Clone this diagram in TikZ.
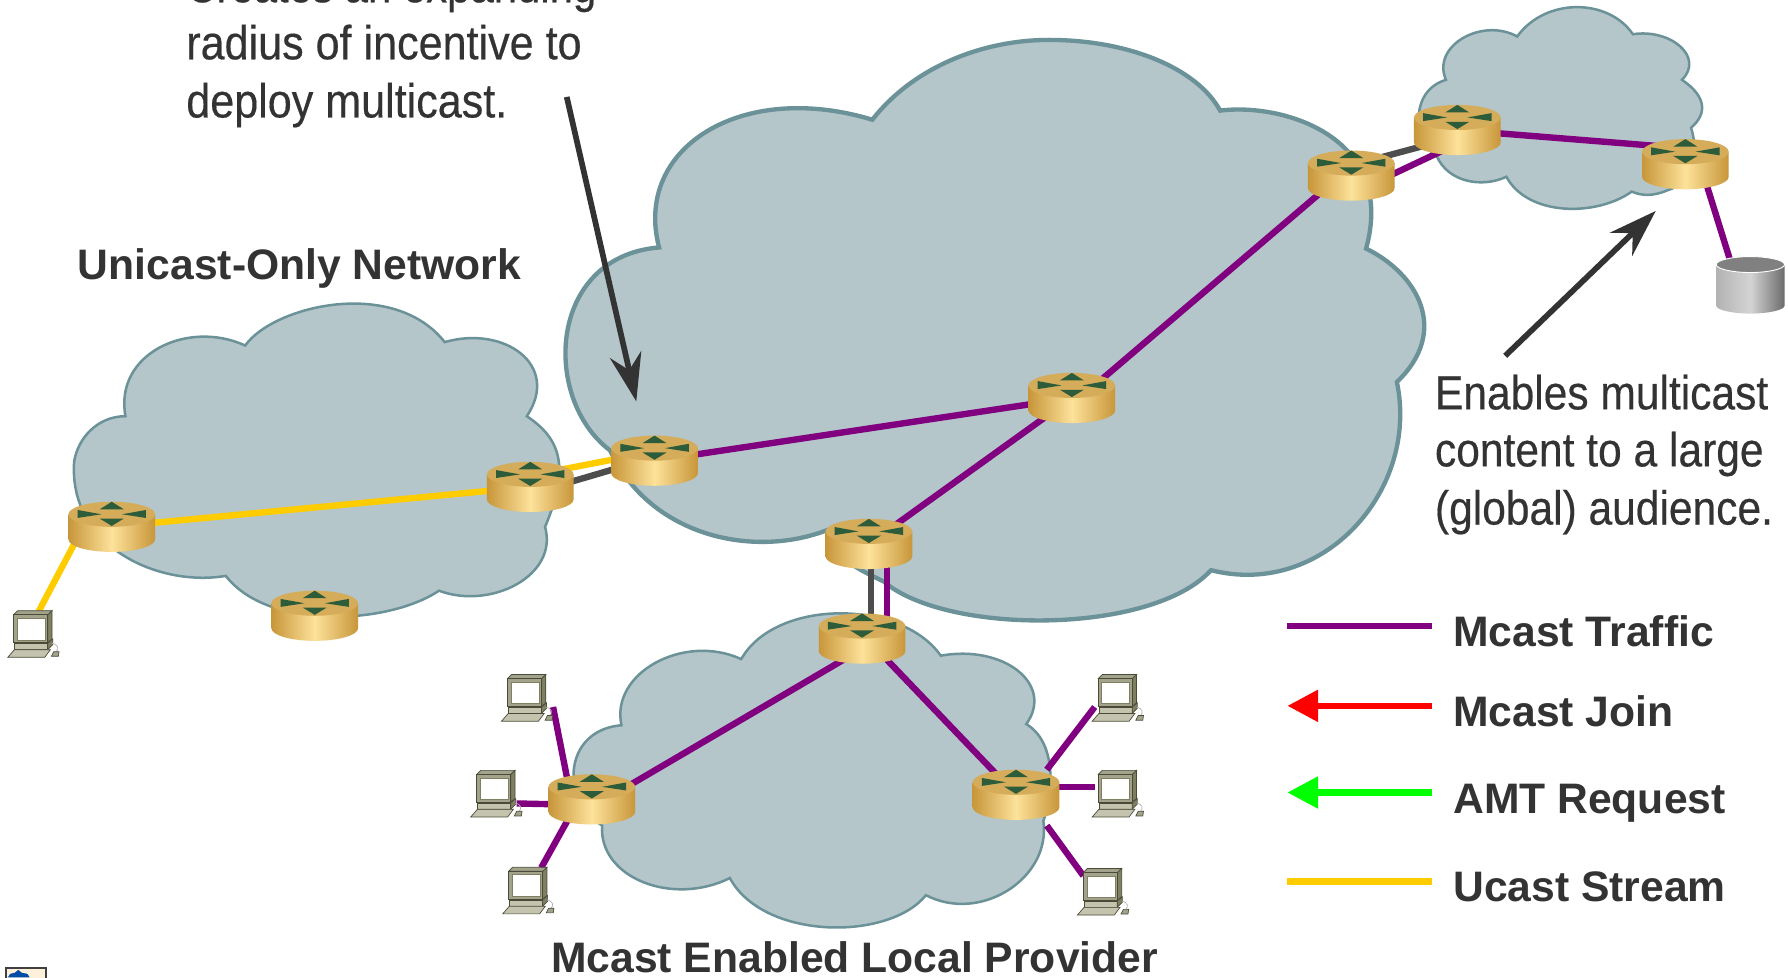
\documentclass[tikz,border=0pt]{standalone}
\usepackage{fontspec}
\setmainfont{Liberation Sans}
\newfontfamily\narrowfont[FakeStretch=0.90,FakeBold=0.35]{Liberation Sans}
\newfontfamily\narrowerfont[FakeStretch=0.875,FakeBold=0.35]{Liberation Sans}
\newfontfamily\narrowmidfont[FakeStretch=0.888,FakeBold=0.35]{Liberation Sans}
\usetikzlibrary{arrows.meta}
\definecolor{cloudfill}{HTML}{B4C6C9}
\definecolor{cloudedge}{HTML}{6B9298}
\definecolor{mcastpurple}{HTML}{800080}
\definecolor{ucastyellow}{HTML}{FFCC00}
\definecolor{linkgray}{HTML}{4D4D4D}
\definecolor{inkdark}{HTML}{333333}
\definecolor{routertop}{HTML}{D5AC5A}
\definecolor{routeredge}{HTML}{C8963A}
\definecolor{routermid}{HTML}{FDE29A}
\definecolor{routerarrow}{HTML}{2D5C3A}
\definecolor{pcdark}{HTML}{7F7F62}
\definecolor{pcmid}{HTML}{A3A38C}
\definecolor{pclight}{HTML}{C4C4AE}
\definecolor{pcline}{HTML}{4A4A38}
\tikzset{
  netpt/.style={inner sep=0pt,minimum width=38pt,minimum height=22pt},
  pcpt/.style={inner sep=0pt,minimum width=22pt,minimum height=21pt},
  dbpt/.style={inner sep=0pt,minimum width=30pt,minimum height=25pt},
  bigcloud/.style={fill=cloudfill,draw=cloudedge,line width=1.9pt,line join=miter},
  smallcloud/.style={fill=cloudfill,draw=cloudedge,line width=1.1pt,line join=miter},
  mlink/.style={draw=mcastpurple,line width=2.8pt},
  ulink/.style={draw=ucastyellow,line width=2.8pt},
  glink/.style={draw=linkgray,line width=2.8pt},
  callout/.style={draw=inkdark,line width=2.5pt,-{Stealth[length=21pt,width=14pt,inset=7pt]}},
  legendline/.style={line width=2.8pt},
  legendhead/.style={{Stealth[length=13.5pt,width=13.5pt,inset=0pt]}-},
  boldlabel/.style={anchor=base west,inner sep=0pt,text=inkdark,font=\fontsize{18.7}{22}\selectfont\bfseries},
  notelabel/.style={anchor=base west,inner sep=0pt,text=inkdark,font=\narrowfont\fontsize{21}{25}\selectfont},
  routerpic/.pic={
    \shade[left color=routeredge,right color=routeredge,middle color=routermid]
      (-38,-11) -- (-38,11) .. controls (-38,17) and (-21,22) .. (0,22)
      .. controls (21,22) and (38,17) .. (38,11) -- (38,-11) -- cycle;
    \fill[routertop] (-38,-11) .. controls (-38,-17) and (-21,-22) .. (0,-22)
      .. controls (21,-22) and (38,-17) .. (38,-11)
      .. controls (38,-5) and (21,0) .. (0,0)
      .. controls (-21,0) and (-38,-5) .. (-38,-11) -- cycle;
    \fill[routerarrow] (-10.5,-15.4) -- (10.5,-15.4) -- (0,-22) -- cycle;
    \fill[routerarrow] (-10.5,-7.2) -- (10.5,-7.2) -- (0,-0.8) -- cycle;
    \fill[routerarrow] (-30,-14.8) -- (-30,-7.8) -- (-9,-11) -- cycle;
    \fill[routerarrow] (30,-14.8) -- (30,-7.8) -- (9,-11) -- cycle;
  },
  pcpic/.pic={
    \begin{scope}[x=.146pt,y=-.146pt,shift={(-98,-640)}]
      \filldraw[fill=pcdark,draw=pcline,line width=.3pt]
        (142,582) -- (155,570) -- (155,655) -- (142,665) -- cycle;
      \filldraw[fill=pcmid,draw=pcline,line width=.3pt]
        (40,582) -- (52,570) -- (155,570) -- (142,582) -- cycle;
      \filldraw[fill=pcmid,draw=pcline,line width=.3pt]
        (40,582) rectangle (142,665);
      \filldraw[fill=white,draw=pcdark,line width=.4pt] (51,593) rectangle (135,658);
      \filldraw[fill=pclight,draw=pcline,line width=.3pt]
        (42,668) rectangle (142,687);
      \filldraw[fill=pcdark,draw=pcline,line width=.3pt]
        (142,668) -- (157,655) -- (157,672) -- (142,687) -- cycle;
      \filldraw[fill=pclight,draw=pcline,line width=.3pt]
        (22,710) -- (42,687) -- (150,687) -- (133,710) -- cycle;
      \draw[gray!60,line width=.3pt] (155,668) .. controls (175,672) and (175,685) .. (168,692);
      \filldraw[fill=pcmid,draw=pcline,line width=.3pt]
        (153,707) -- (160,693) -- (176,693) -- (174,707) -- cycle;
    \end{scope}
  },
  dbpic/.pic={
    \shade[left color=black!30,right color=black!58,middle color=black!17]
      (-30,-18) -- (-30,18) .. controls (-30,22) and (-15,25) .. (0,25)
      .. controls (15,25) and (30,22) .. (30,18) -- (30,-18) -- cycle;
    \filldraw[fill=black!50,draw=white,line width=.4pt]
      (-30,-18) .. controls (-30,-22) and (-15,-25) .. (0,-25)
      .. controls (15,-25) and (30,-22) .. (30,-18)
      .. controls (30,-14) and (15,-11) .. (0,-11)
      .. controls (-15,-11) and (-30,-14) .. (-30,-18) -- cycle;
  }
}
\begin{document}
\begin{tikzpicture}[x=.5pt,y=-.5pt]
\fill[white] (0,0) rectangle (1568,857);
\useasboundingbox (0,0) rectangle (1568,857);
% anchors
\foreach \n/\px/\py in {r1/98/462,r2/276/540,r3/465/427,r4/574/404,r5/940/349,r6/762/477,
  r7/1185/154,r8/1278/114,r9/1478/144,r10/756/560,r11/519/701,r12/891/697}
  {\node[netpt] (\n) at (\px,\py) {};}
\foreach \n/\px/\py in {pc0/29/556,pc1/462/612,pc2/435/696,pc3/463/781,pc4/980/612,pc5/980/696,pc6/967/782}
  {\node[pcpt] (\n) at (\px,\py) {};}
\node[dbpt] (db) at (1535,250) {};
% clouds
\path[bigcloud] (765,105) .. controls (800,60) and (860,35) .. (920,35)
  .. controls (990,35) and (1050,60) .. (1070,97)
  .. controls (1125,90) and (1225,120) .. (1198,218)
  .. controls (1243,240) and (1272,290) .. (1225,335)
  .. controls (1245,430) and (1160,525) .. (1062,500)
  .. controls (1010,557) and (830,557) .. (775,510)
  .. controls (755,500) and (730,490) .. (725,465)
  .. controls (660,490) and (570,470) .. (535,395)
  .. controls (475,350) and (480,225) .. (578,217)
  .. controls (555,130) and (650,70) .. (765,105) -- cycle;
\path[smallcloud] (215,303) .. controls (240,268) and (345,243) .. (390,300)
  .. controls (442,285) and (492,320) .. (462,365)
  .. controls (492,385) and (500,410) .. (478,462)
  .. controls (490,505) and (430,535) .. (385,518)
  .. controls (340,548) and (235,553) .. (198,505)
  .. controls (140,515) and (60,480) .. (65,405)
  .. controls (68,385) and (85,365) .. (110,365)
  .. controls (100,310) and (165,280) .. (215,303) -- cycle;
\path[smallcloud] (650,578) .. controls (680,525) and (790,525) .. (825,575)
  .. controls (880,565) and (925,600) .. (900,635)
  .. controls (925,650) and (925,690) .. (915,720)
  .. controls (922,770) and (860,810) .. (812,785)
  .. controls (780,825) and (670,825) .. (640,770)
  .. controls (590,795) and (525,770) .. (528,724)
  .. controls (490,700) and (495,640) .. (545,636)
  .. controls (535,590) and (600,555) .. (650,578) -- cycle;
\path[smallcloud] (1330.5,32) .. controls (1355,-2) and (1410,-2) .. (1432,30)
  .. controls (1465,25) and (1495,50) .. (1475,70)
  .. controls (1497,85) and (1497,100) .. (1483,112)
  .. controls (1490,135) and (1485,160) .. (1462,167)
  .. controls (1450,172) and (1440,172) .. (1431,168)
  .. controls (1400,190) and (1340,190) .. (1321,155)
  .. controls (1300,165) and (1270,160) .. (1260,137)
  .. controls (1240,125) and (1235,80) .. (1268,70)
  .. controls (1255,40) and (1300,15) .. (1330.5,32) -- cycle;
% connectors
\draw[ulink] (r1.center) -- (r3.center);
\draw[ulink] ([shift={(-25,0)}]r1.center) -- ([shift={(5,-20)}]pc0.center);
\draw[ulink] ([shift={(0,-10)}]r3.center) -- ([shift={(0,-8)}]r4.center);
\draw[glink] ([shift={(0,6)}]r3.center) -- ([shift={(0,-3)}]r4.center);
\draw[mlink] (r4.center) -- (r5.center);
\draw[mlink] (r6.center) -- (r5.center);
\draw[mlink] ([shift={(0,6)}]r5.center) -- ([shift={(0,-8)}]r7.center);
\draw[glink] ([shift={(0,-9)}]r7.center) -- ([shift={(0,6)}]r8.center);
\draw[mlink] ([shift={(0,16)}]r7.center) -- ([shift={(0,12)}]r8.center);
\draw[mlink] (r8.center) -- ([shift={(0,-14)}]r9.center);
\draw[mlink] ([shift={(13,0)}]r9.center) -- ([shift={(-11,0)}]db.center);
\draw[glink] ([shift={(2,0)}]r6.center) -- ([shift={(8,0)}]r10.center);
\draw[mlink] ([shift={(16,0)}]r6.center) -- ([shift={(22,0)}]r10.center);
\draw[mlink] ([shift={(0,7)}]r11.center) -- ([shift={(0,9)}]r10.center);
\draw[mlink] ([shift={(4,0)}]r10.center) -- (r12.center);
\draw[mlink] ([shift={(23,8)}]pc1.center) -- ([shift={(-18,0)}]r11.center);
\draw[mlink] ([shift={(18,8.6)}]pc2.center) -- ([shift={(0,5)}]r11.center);
\draw[mlink] ([shift={(11.6,-20)}]pc3.center) -- ([shift={(-11,0)}]r11.center);
\draw[mlink] ([shift={(-20,8)}]pc4.center) -- ([shift={(27,-22)}]r12.center);
\draw[mlink] ([shift={(-20,-6)}]pc5.center) -- ([shift={(0,-7)}]r12.center);
\draw[mlink] ([shift={(-17,-14)}]pc6.center) -- ([shift={(27,27)}]r12.center);
% equipment
\foreach \n in {r1,r2,r3,r4,r5,r6,r7,r8,r9,r10,r11,r12}
  {\pic at (\n.center) {routerpic};}
\foreach \n in {pc0,pc1,pc2,pc3,pc4,pc5,pc6}
  {\pic at (\n.center) {pcpic};}
\pic at (db.center) {dbpic};
% callouts
\coordinate (c1s) at (497,85);
\coordinate (c1e) at (558,352);
\coordinate (c2s) at (1320,312);
\coordinate (c2e) at (1452,185);
\draw[callout] (c1s) -- (c1e);
\draw[callout] (c2s) -- (c2e);
% legend
\foreach \n/\py in {a/549,b/619,c/695,d/773}
  {\coordinate (l\n w) at (1129,\py); \coordinate (l\n e) at (1256,\py);}
\draw[legendline,mcastpurple] (law) -- (lae);
\draw[legendline,legendhead,red] (lbw) -- (lbe);
\draw[legendline,legendhead,green] (lcw) -- (lce);
\draw[legendline,ucastyellow] (ldw) -- (lde);
% text
\node[boldlabel] (t1) at (1274,567) {Mcast Traffic};
\node[boldlabel] (t2) at (1274,637) {Mcast Join};
\node[boldlabel] (t3) at (1274,713) {AMT Request};
\node[boldlabel] (t4) at (1274,791) {Ucast Stream};
\node[boldlabel] (t5) at (68,245) {Unicast-Only Network};
\node[boldlabel] (t6) at (483,853) {Mcast Enabled Local Provider};
\node[notelabel,font=\narrowerfont\fontsize{21}{25}\selectfont] (n1) at (163,2) {Creates an expanding};
\node[notelabel] (n2) at (163,52) {radius of incentive to};
\node[notelabel] (n3) at (163,103) {deploy multicast.};
\node[notelabel,font=\narrowmidfont\fontsize{21}{25}\selectfont] (n4) at (1258,359) {Enables multicast};
\node[notelabel,font=\narrowmidfont\fontsize{21}{25}\selectfont] (n5) at (1258,409) {content to a large};
\node[notelabel,font=\narrowmidfont\fontsize{21}{25}\selectfont] (n6) at (1258,460) {(global) audience.};
% corner icon
\filldraw[fill=yellow!12!orange!12,draw=black!75,line width=.8pt] (5,849) rectangle (40,880);
\fill[blue!50!black!70!cyan] (7,857) -- (9,854) -- (13,853) -- (16,850.5) -- (19,853) -- (24,854) -- (26,857) -- cycle;
\end{tikzpicture}
\end{document}
